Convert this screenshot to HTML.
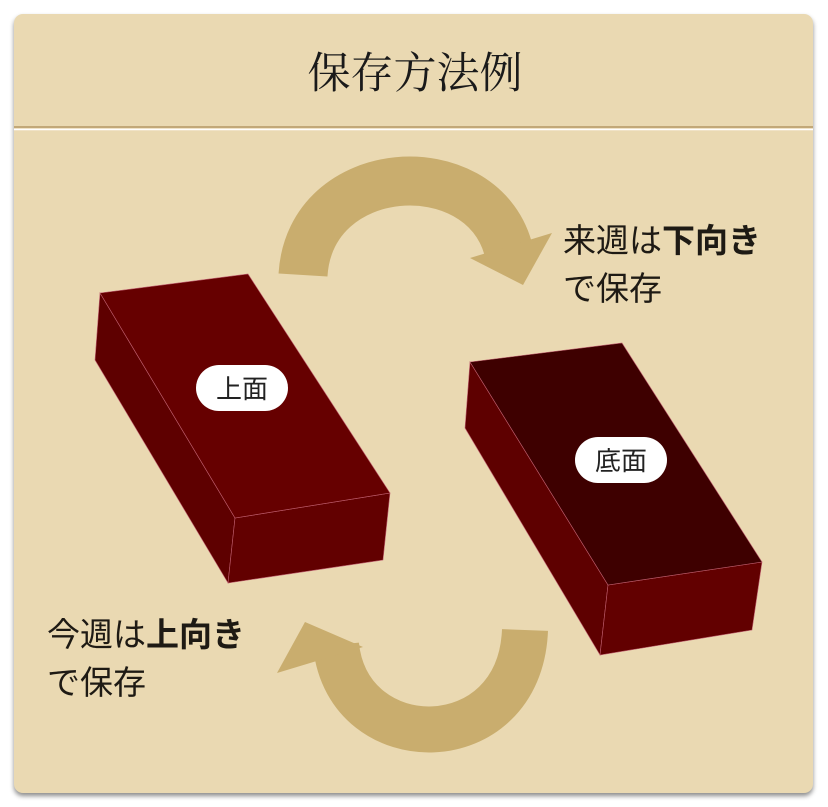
<!DOCTYPE html>
<html><head><meta charset="utf-8"><style>
html,body{margin:0;padding:0;background:#fff;width:828px;height:807px;overflow:hidden}
.card{position:absolute;left:14px;top:14px;width:799px;height:779px;background:#EAD9B2;border-radius:9px;box-shadow:0 3px 5px rgba(0,0,0,.45)}
.t{font-family:"Liberation Sans","Noto Sans CJK JP",sans-serif;color:#1e1a14;position:absolute;font-size:33px;line-height:48px}
b{font-weight:bold}
</style></head><body>
<div class="card"></div>
<svg width="828" height="807" style="position:absolute;left:0;top:0">
<line x1="14" y1="127" x2="813" y2="127" stroke="#C2A878" stroke-width="2"/>
<line x1="14" y1="129.5" x2="813" y2="129.5" stroke="#fff" stroke-width="1.5"/>
<text x="415" y="88" text-anchor="middle" font-family="'Liberation Serif','Noto Serif CJK SC',serif" font-size="43" fill="#1a1a1a">保存方法例</text>
<path d="M303 275 C310 160 480 150 508 248" fill="none" stroke="#C9AD6E" stroke-width="49"/>
<polygon points="552,233 470,258 523,285" fill="#C9AD6E"/>
<path d="M525 630 C520 760 348 760 336 645" fill="none" stroke="#C9AD6E" stroke-width="46"/>
<polygon points="305,622 277,673 363,647" fill="#C9AD6E"/>
<g stroke="#c06070" stroke-width="0.6">
<polygon points="100,293 235,518 228,583 95,360" fill="#5e0000"/>
<polygon points="235,518 390,493 383,560 228,583" fill="#620000"/>
<polygon points="100,293 248,274 390,493 235,518" fill="#660000"/>
<polygon points="470,362 608,585 600,655 465,428" fill="#5e0000"/>
<polygon points="608,585 762,562 752,630 600,655" fill="#620000"/>
<polygon points="470,362 622,343 762,562 608,585" fill="#3e0000"/>
</g>
<rect x="196" y="365" width="92" height="46" rx="23" fill="#fff"/>
<text x="242" y="398" text-anchor="middle" font-family="'Liberation Sans','Noto Sans CJK JP',sans-serif" font-size="26" fill="#222">上面</text>
<rect x="575" y="437" width="92" height="46" rx="23" fill="#fff"/>
<text x="621" y="470" text-anchor="middle" font-family="'Liberation Sans','Noto Sans CJK JP',sans-serif" font-size="26" fill="#222">底面</text>
</svg>
<div class="t" style="left:563px;top:217px">来週は<b>下向き</b><br>で保存</div>
<div class="t" style="left:47px;top:611px">今週は<b>上向き</b><br>で保存</div>
</body></html>
